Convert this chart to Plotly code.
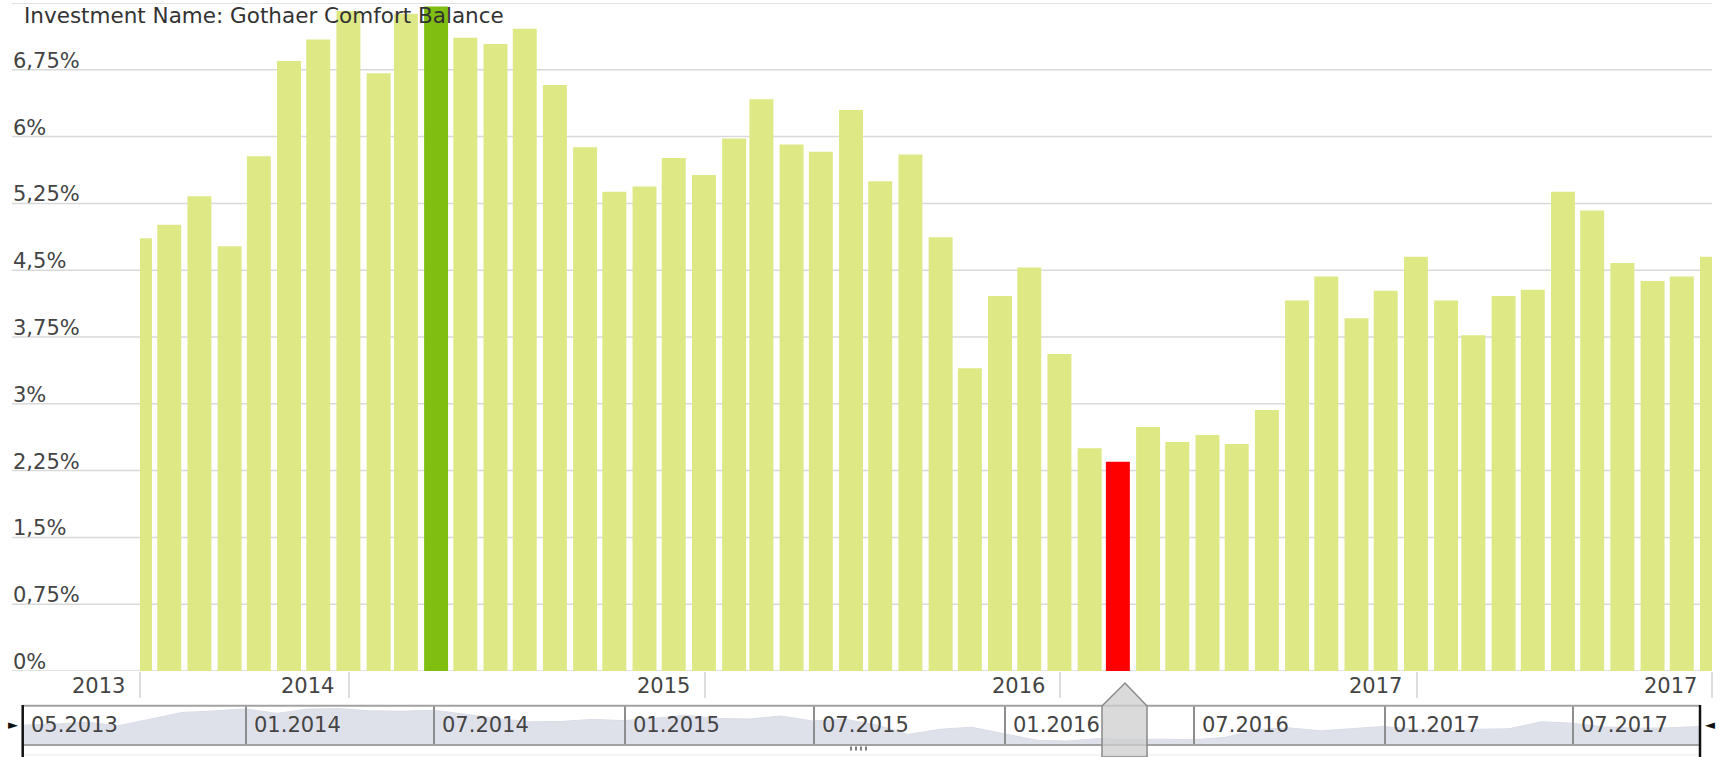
import plotly.graph_objects as go
import pandas as pd

W, H = 1719, 757

# ---------------- data ----------------
dates = pd.date_range("2013-05-31", periods=54, freq=pd.offsets.MonthEnd())
values = [4.86, 5.01, 5.33, 4.77, 5.78, 6.85, 7.09, 7.41, 6.71, 7.38,
          7.46, 7.11, 7.04, 7.21, 6.58, 5.88, 5.38, 5.44, 5.76, 5.57,
          5.98, 6.42, 5.91, 5.83, 6.30, 5.50, 5.80, 4.87, 3.40, 4.21,
          4.53, 3.56, 2.50, 2.35, 2.74, 2.57, 2.65, 2.55, 2.93, 4.16,
          4.43, 3.96, 4.27, 4.65, 4.16, 3.77, 4.21, 4.28, 5.38, 5.17,
          4.58, 4.38, 4.43, 4.65]

y_ticks = [0, 0.75, 1.5, 2.25, 3, 3.75, 4.5, 5.25, 6, 6.75, 7.5]
y_tick_text = ["0%", "0,75%", "1,5%", "2,25%", "3%", "3,75%", "4,5%",
               "5,25%", "6%", "6,75%", ""]

year_ticks = ["2013-05-31", "2014-01-01", "2015-01-01", "2016-01-01",
              "2017-01-01", "2017-10-31"]
year_labels = ["2013", "2014", "2015", "2016", "2017", "2017"]

nav_ticks = ["2013-05-31", "2014-01-01", "2014-07-01", "2015-01-01",
             "2015-07-01", "2016-01-01", "2016-07-01", "2017-01-01",
             "2017-07-01"]
nav_labels = ["05.2013", "01.2014", "07.2014", "01.2015", "07.2015",
              "01.2016", "07.2016", "01.2017", "07.2017"]

title_text = "Investment Name: Gothaer Comfort Balance"

BAR_C = "#dee884"
MAX_C = "#80bf12"
MIN_C = "#ff0000"
imax = values.index(max(values))
imin = values.index(min(values))
colors = [MAX_C if i == imax else (MIN_C if i == imin else BAR_C)
          for i in range(len(values))]

FONT = "DejaVu Sans"
LBL = 21


def px(x):
    return x / W


def py(y):
    return 1 - y / H


fig = go.Figure()
fig.add_bar(x=dates, y=values, marker=dict(color=colors, line=dict(width=0)),
            width=24.6 * 86400000, xaxis="x", yaxis="y", hoverinfo="skip")
fig.add_scatter(x=dates, y=values, mode="lines", fill="tozeroy",
                fillcolor="#dfe1ea", line=dict(color="#d9dce7", width=1),
                xaxis="x2", yaxis="y2", hoverinfo="skip")

rng = [dates[0].strftime("%Y-%m-%d"), dates[-1].strftime("%Y-%m-%d")]

fig.update_layout(
    width=W, height=H, margin=dict(l=0, r=0, t=0, b=0),
    paper_bgcolor="white", plot_bgcolor="rgba(0,0,0,0)", showlegend=False,
    font=dict(family=FONT, color="#3c3c3c"),
    xaxis=dict(type="date", domain=[px(140), px(1712)], range=rng, anchor="y",
               showgrid=False, zeroline=False, showline=False,
               tickmode="array", tickvals=year_ticks, ticks="outside",
               ticklen=26, tickwidth=2, tickcolor="#dddddd",
               showticklabels=False, fixedrange=True),
    yaxis=dict(domain=[py(671), py(3)], range=[0, 7.5], anchor="x",
               showgrid=False, zeroline=False, showticklabels=False,
               ticks="", fixedrange=True),
    xaxis2=dict(type="date", domain=[px(22.7), px(1700)], range=rng,
                anchor="y2", showgrid=False, zeroline=False, showline=False,
                tickmode="array", tickvals=nav_ticks[1:], ticks="inside",
                ticklen=39, tickwidth=2, tickcolor="#8e8e8e",
                showticklabels=False, layer="above traces", fixedrange=True),
    yaxis2=dict(domain=[py(745), py(705.7)], range=[1.73, 7.92], anchor="x2",
                showgrid=False, zeroline=False, showticklabels=False,
                ticks="", fixedrange=True),
)

shapes = []
# horizontal gridlines extending left under the value labels
for v in y_ticks:
    shapes.append(dict(type="line", xref="paper", yref="y", x0=px(12),
                       x1=px(1712), y0=v, y1=v, layer="below",
                       line=dict(color="#d9d9d9", width=1.5)))
# navigator frame
for yy in (705.7, 745):
    shapes.append(dict(type="line", xref="paper", yref="paper", x0=px(22.7),
                       x1=px(1700), y0=py(yy), y1=py(yy),
                       line=dict(color="#a2a2a2", width=2)))
shapes.append(dict(type="line", xref="paper", yref="paper", x0=px(22.7),
                   x1=px(1700), y0=py(755), y1=py(755),
                   line=dict(color="#e8e8e8", width=1)))
for xx in (22.7, 1700):
    shapes.append(dict(type="line", xref="paper", yref="paper", x0=px(xx),
                       x1=px(xx), y0=py(705), y1=py(757),
                       line=dict(color="#111111", width=2.5)))
# selection handle
hp = [(1102, 757), (1102, 706), (1125, 683), (1147, 706), (1147, 757)]
path = "M " + " L ".join(f"{px(a):.6f},{py(b):.6f}" for a, b in hp) + " Z"
shapes.append(dict(type="path", xref="paper", yref="paper", path=path,
                   fillcolor="rgba(205,205,205,0.75)",
                   line=dict(color="#8a8a8a", width=1.5)))
# scrollbar grip
for k in range(4):
    gx = 851 + 5 * k
    shapes.append(dict(type="line", xref="paper", yref="paper", x0=px(gx),
                       x1=px(gx), y0=py(746.5), y1=py(750.5),
                       line=dict(color="#555555", width=1.5)))

ann = []
ann.append(dict(text=title_text, xref="paper", yref="paper", x=px(22),
                y=py(16), xanchor="left", yanchor="middle", showarrow=False,
                font=dict(family=FONT, size=21.5, color="#333333")))
for v, t in zip(y_ticks, y_tick_text):
    if t:
        ann.append(dict(text=t, xref="paper", yref="y", x=px(11), y=v,
                        xanchor="left", yanchor="bottom", yshift=-5,
                        showarrow=False,
                        font=dict(family=FONT, size=LBL, color="#444444")))
for d, t in zip(year_ticks, year_labels):
    ann.append(dict(text=t, xref="x", yref="paper", x=d, y=py(686),
                    xanchor="right", yanchor="middle", xshift=-13,
                    showarrow=False,
                    font=dict(family=FONT, size=LBL, color="#444444")))
for d, t in zip(nav_ticks, nav_labels):
    ann.append(dict(text=t, xref="x2", yref="y2 domain", x=d, y=0.5,
                    xanchor="left", yanchor="middle", xshift=6,
                    showarrow=False,
                    font=dict(family=FONT, size=LBL, color="#444444")))
ann.append(dict(text="►", xref="paper", yref="paper", x=px(13), y=py(724.5),
                xanchor="center", yanchor="middle", showarrow=False,
                font=dict(family=FONT, size=13, color="#111111")))
ann.append(dict(text="◄", xref="paper", yref="paper", x=px(1710), y=py(724),
                xanchor="center", yanchor="middle", showarrow=False,
                font=dict(family=FONT, size=13, color="#111111")))

fig.update_layout(shapes=shapes, annotations=ann)
fig.write_html(
    "out.html",
    config={"displayModeBar": False},
    post_script="document.body.style.margin='0';document.body.style.overflow='hidden';",
)
